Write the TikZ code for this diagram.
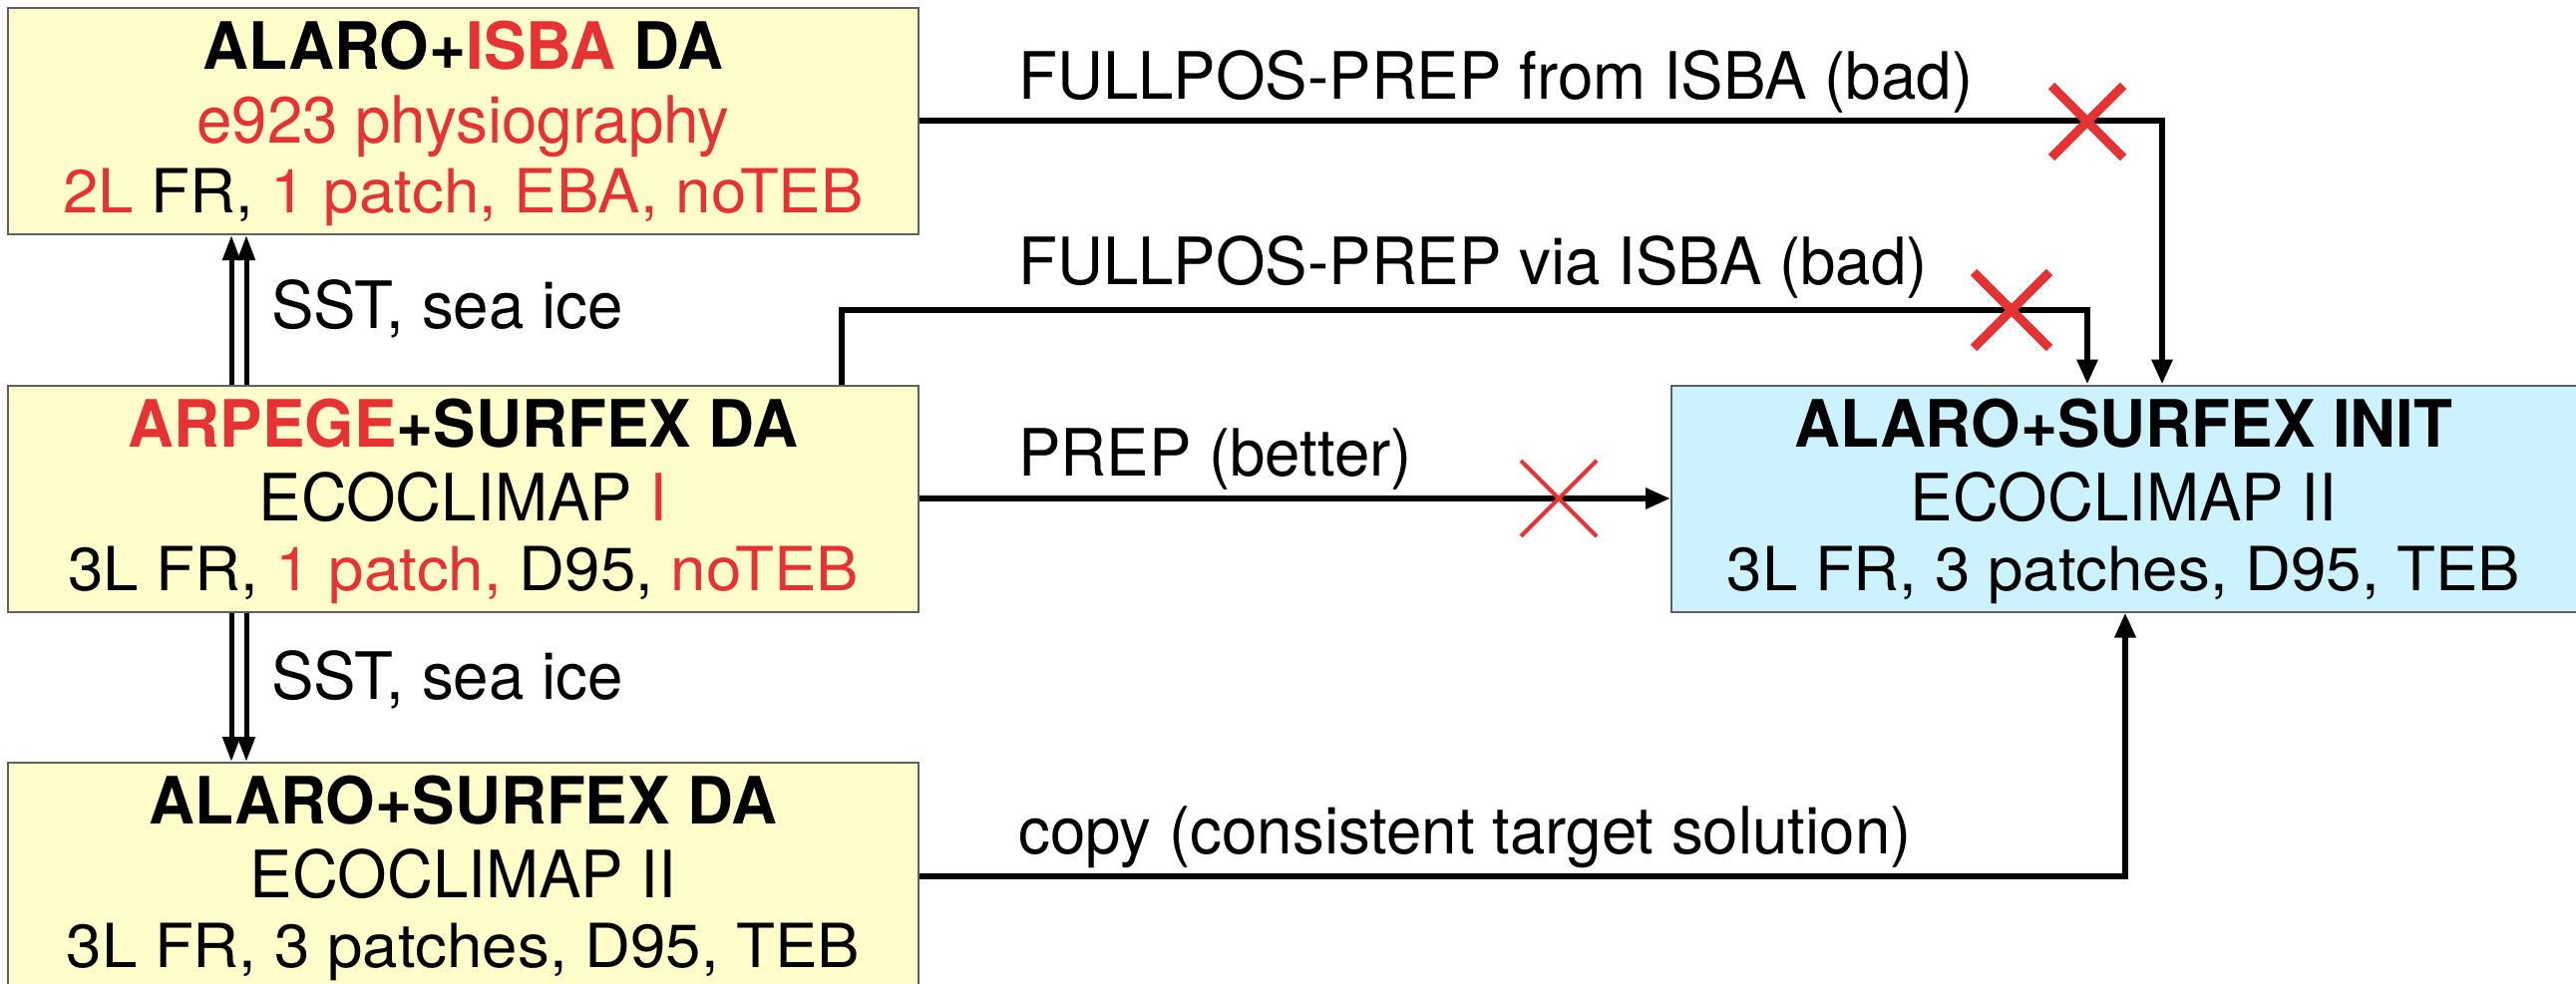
\documentclass[tikz,border=0pt]{standalone}
\usepackage{fontspec}
\setmainfont{TeX Gyre Heros}[FakeStretch=0.972]
\newfontfamily\linethree{TeX Gyre Heros}[FakeStretch=1.043]
\usetikzlibrary{arrows.meta,calc}
\definecolor{boxyellow}{RGB}{255,255,204}
\definecolor{boxblue}{RGB}{204,242,255}
\definecolor{xred}{RGB}{230,50,50}
\definecolor{bordergray}{RGB}{95,95,95}
\newcommand{\rd}[1]{\textcolor{xred}{#1}}
\begin{document}
\begin{tikzpicture}[x=1pt,y=-1pt,
  box/.style={draw=bordergray, line width=2pt, inner sep=0pt,
    minimum width=913pt, minimum height=227pt},
  ybox/.style={box, fill=boxyellow},
  bbox/.style={box, fill=boxblue},
  ltop/.style={anchor=base, inner sep=0pt, font=\fontsize{65.5}{74}\selectfont},
  lbot/.style={anchor=base, inner sep=0pt, font=\linethree\fontsize{61}{70}\selectfont},
  conn/.style={line width=6pt, -{Triangle[length=25pt,width=20pt]}},
  dconn/.style={line width=5pt, -{Triangle[length=25pt,width=17pt]}},
  lab/.style={anchor=west, inner sep=0pt, font=\fontsize{65.5}{74}\selectfont},
  thickx/.style={draw=xred, line width=9pt},
  thinx/.style={draw=xred, line width=4pt}
]
\useasboundingbox (0,0) rectangle (2583,987);
\clip (0,0) rectangle (2583,987);
\fill[white] (0,0) rectangle (2583,987);

% boxes
\node[ybox] (A) at (464.5,121.5) {};
\node[ybox] (B) at (464.5,500) {};
\node[ybox] (C) at (464.5,878.5) {};
\node[bbox] (D) at (2132.5,500) {};

% box texts
\node[ltop] (A1) at ($(A.center)+(0,-52)$) {\textbf{ALARO+\rd{ISBA} DA}};
\node[ltop] (A2) at ($(A.center)+(0,22)$) {\rd{e923 physiography}};
\node[lbot] (A3) at ($(A.center)+(0,92)$) {\rd{2L} FR, \rd{1 patch, EBA, noTEB}};

\node[ltop] (B1) at ($(B.center)+(0,-52)$) {\textbf{\rd{ARPEGE}+SURFEX DA}};
\node[ltop] (B2) at ($(B.center)+(0,22)$) {ECOCLIMAP \rd{I}};
\node[lbot] (B3) at ($(B.center)+(0,92)$) {3L FR, \rd{1 patch,} D95, \rd{noTEB}};

\node[ltop] (C1) at ($(C.center)+(0,-52)$) {\textbf{ALARO+SURFEX DA}};
\node[ltop] (C2) at ($(C.center)+(0,22)$) {ECOCLIMAP II};
\node[lbot] (C3) at ($(C.center)+(0,92)$) {3L FR, 3 patches, D95, TEB};

\node[ltop] (D1) at ($(D.center)+(-3,-52)$) {\textbf{ALARO+SURFEX INIT}};
\node[ltop] (D2) at ($(D.center)+(-3,22)$) {ECOCLIMAP II};
\node[lbot] (D3) at ($(D.center)+(-3,92)$) {3L FR, 3 patches, D95, TEB};

% coordinates for connector routing
\coordinate (t1) at (2168,122);
\coordinate (v1) at (844,311);
\coordinate (v2) at (2093,311);
\coordinate (c1) at (2131,878.5);

% FULLPOS-PREP from ISBA
\draw[conn] (A.east) -- (A.east -| t1) -- (D.north -| t1);
% FULLPOS-PREP via ISBA
\draw[conn] (B.north -| v1) -- (v1) -- (v2) -- (D.north -| v2);
% PREP
\draw[conn] (B.east) -- (D.west);
% copy
\draw[conn] (C.east) -- (c1) -- (D.south -| c1);

% SST, sea ice double arrows
\coordinate (dl) at (232,0);
\coordinate (dr) at (247,0);
\draw[dconn] (B.north -| dl) -- (A.south -| dl);
\draw[dconn] (B.north -| dr) -- (A.south -| dr);
\draw[dconn] (B.south -| dl) -- (C.north -| dl);
\draw[dconn] (B.south -| dr) -- (C.north -| dr);

% labels
\node[lab] (l1) at (1021,82) {FULLPOS-PREP from ISBA (bad)};
\node[lab] (l2) at (1021,268) {FULLPOS-PREP via ISBA (bad)};
\node[lab] (l3) at (1021,461) {PREP (better)};
\node[lab] (l4) at (1021,840) {copy (consistent target solution)};
\node[lab] (s1) at (272,310) {SST, sea ice};
\node[lab] (s2) at (272,682) {SST, sea ice};

% crosses
\coordinate (x1) at (2093,122);
\coordinate (x2) at (2017,311);
\coordinate (x3) at (1563,500);
\draw[thickx] ($(x1)+(-36,-36)$) -- ($(x1)+(36,36)$) ($(x1)+(-36,36)$) -- ($(x1)+(36,-36)$);
\draw[thickx] ($(x2)+(-38,-38)$) -- ($(x2)+(38,38)$) ($(x2)+(-38,38)$) -- ($(x2)+(38,-38)$);
\draw[thinx] ($(x3)+(-38,-38)$) -- ($(x3)+(38,38)$) ($(x3)+(-38,38)$) -- ($(x3)+(38,-38)$);
\end{tikzpicture}
\end{document}
